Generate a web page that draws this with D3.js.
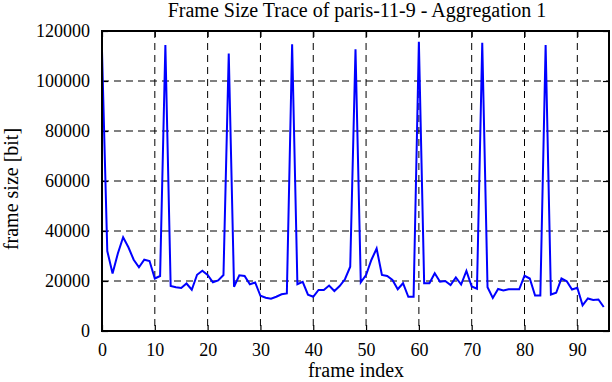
<!DOCTYPE html>
<html><head><meta charset="utf-8">
<script src="https://cdn.jsdelivr.net/npm/d3@7"></script>
<style>body{margin:0;background:#fff}svg{display:block}text{font-family:"Liberation Serif","DejaVu Serif",serif;fill:#000}</style>
</head><body><svg id="c" width="612" height="382"></svg>
<script>
const title = "Frame Size Trace of paris-11-9 - Aggregation 1";
const xLabel = "frame index";
const yLabel = "frame size [bit]";
const xTicks = [0,10,20,30,40,50,60,70,80,90];
const yTicks = [0,20000,40000,60000,80000,100000,120000];
const frameSizes = [
112000,32000,23000,31000,37500,33500,28500,25500,28500,28000,
21000,22000,114400,18000,17500,17200,19000,16500,22500,24100,
22400,19500,20200,22400,111000,17700,22300,22000,18700,19400,
14100,13300,12900,13700,14700,15000,114700,18700,19700,14500,
13700,16400,16400,18200,16000,18000,20700,25700,112700,19500,
22400,28400,33000,22400,22000,20400,16700,19100,13700,13700,
115700,19100,19100,23100,19700,20000,18400,21400,18600,24000,
17800,16900,115300,17500,13200,16800,16200,16700,16700,16700,
22100,21000,14200,14200,114400,14600,15300,21000,19900,16600,
17300,10300,13000,12400,12600,9600];

const svg = d3.select("#c");
const L=102, R=609, T=31, B=331;
const x = d3.scaleLinear().domain([0,96]).range([L,R]);
const y = d3.scaleLinear().domain([0,120000]).range([B,T]);

// grid
const g = svg.append("g");
g.selectAll(".vg").data(xTicks.filter(d=>d>0)).join("line")
  .attr("x1",d=>x(d)).attr("x2",d=>x(d)).attr("y1",T).attr("y2",B)
  .attr("stroke","#000").attr("stroke-width",1).attr("stroke-dasharray","7,5");
g.selectAll(".hg").data(yTicks.filter(d=>d>0&&d<120000)).join("line")
  .attr("x1",L).attr("x2",R).attr("y1",d=>y(d)).attr("y2",d=>y(d))
  .attr("stroke","#000").attr("stroke-width",1).attr("stroke-dasharray","7,5");

// axes (inward ticks, mirrored)
const fs = "18px";
const ax = svg.append("g").attr("transform",`translate(0,${B})`)
  .call(d3.axisBottom(x).tickValues(xTicks).tickSize(-6).tickPadding(12));
const axT = svg.append("g").attr("transform",`translate(0,${T})`)
  .call(d3.axisTop(x).tickValues(xTicks).tickSize(-6).tickFormat(""));
const ay = svg.append("g").attr("transform",`translate(${L},0)`)
  .call(d3.axisLeft(y).tickValues(yTicks).tickSize(-6).tickPadding(12).tickFormat(d3.format("d")));
const ayR = svg.append("g").attr("transform",`translate(${R},0)`)
  .call(d3.axisRight(y).tickValues(yTicks).tickSize(-6).tickFormat(""));
[ax,axT,ay,ayR].forEach(a=>{
  a.select(".domain").remove();
  a.selectAll("line").attr("stroke","#000").attr("stroke-width",1.2);
  a.selectAll("text").style("font-size",fs).style("font-family",'"Liberation Serif",serif').attr("fill","#000");
});

// line
svg.append("path").datum(frameSizes)
  .attr("fill","none").attr("stroke","#0000ff").attr("stroke-width",2)
  .attr("d", d3.line().x((d,i)=>x(i)).y(d=>y(d)));

// frame
svg.append("rect").attr("x",L).attr("y",T).attr("width",R-L).attr("height",B-T)
  .attr("fill","none").attr("stroke","#000").attr("stroke-width",2);

svg.append("text").attr("x",357).attr("y",17).attr("text-anchor","middle")
  .style("font-size","20px").text(title);
svg.append("text").attr("x",356).attr("y",377).attr("text-anchor","middle")
  .style("font-size","20px").text(xLabel);
svg.append("text").attr("transform",`translate(17.5,189) rotate(-90)`).attr("text-anchor","middle")
  .style("font-size","20px").text(yLabel);
</script></body></html>
